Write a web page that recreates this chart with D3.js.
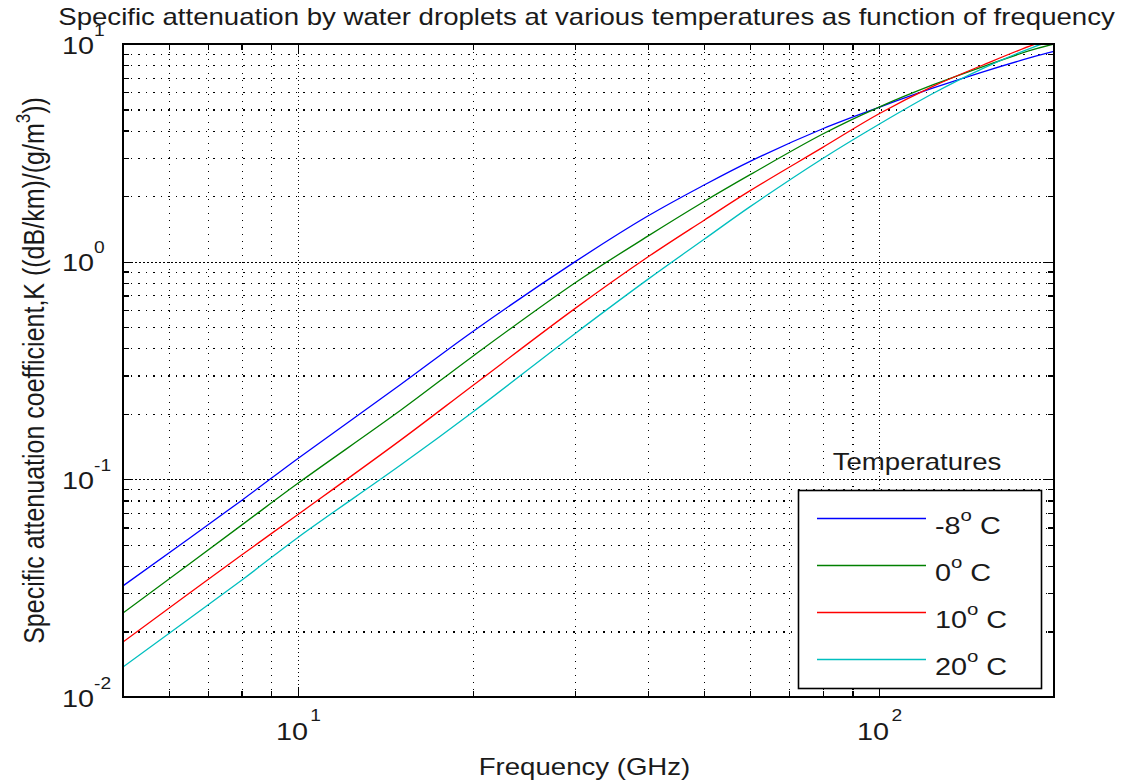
<!DOCTYPE html>
<html><head><meta charset="utf-8">
<script src="https://cdn.jsdelivr.net/npm/d3@7"></script>
<style>
html,body{margin:0;padding:0;background:#fff;}
svg{display:block;font-family:"Liberation Sans", Arial, sans-serif;}
</style></head><body>
<svg id="chart" width="1125" height="782"></svg>
<script>
// ---- data ----
const freqGHz = [5, 8, 10, 15, 20, 30, 40, 50, 60, 80, 100, 124, 151, 184, 200];
const kMinus8 = [0.0324, 0.0800, 0.1247, 0.272, 0.478, 1.00, 1.62, 2.25, 2.89, 4.08, 5.12, 6.28, 7.45, 8.72, 9.25];
const kZero   = [0.0243, 0.0616, 0.0959, 0.207, 0.368, 0.800, 1.31, 1.89, 2.51, 3.86, 5.13, 6.50, 7.88, 9.42, 10.0];
const kTen    = [0.0179, 0.0449, 0.0689, 0.151, 0.270, 0.610, 1.05, 1.55, 2.12, 3.35, 4.78, 6.40, 8.01, 9.90, 10.6];
const kTwenty = [0.01374, 0.0344, 0.0541, 0.116, 0.204, 0.468, 0.829, 1.267, 1.79, 2.98, 4.28, 5.94, 7.73, 9.66, 10.4];
const seriesTemps = ["-8", "0", "10", "20"];
const seriesColors = ["#0000ff", "#008000", "#ff0000", "#00bfbf"];
const xMajorTicks = [10, 100];
const xMinorTicks = [6, 7, 8, 9, 20, 30, 40, 50, 60, 70, 80, 90];
const yMajorTicks = [0.01, 0.1, 1, 10];
const yMinorTicks = [0.02,0.03,0.04,0.05,0.06,0.07,0.08,0.09,0.2,0.3,0.4,0.5,0.6,0.7,0.8,0.9,2,3,4,5,6,7,8,9];
const titleText = "Specific attenuation by water droplets at various temperatures as function of frequency";
const xLabelText = "Frequency (GHz)";
const yLabelMain = "Specific attenuation coefficient,K ((dB/km)/(g/m";
const yLabelSup = "3";
const yLabelEnd = "))";
const legendTitle = "Temperatures";

// ---- layout ----
const W = 1125, H = 782;
const margin = {left: 123, top: 44, right: 71, bottom: 85};
const iw = W - margin.left - margin.right;
const ih = H - margin.top - margin.bottom;
const SX = 1.2;           // horizontal glyph stretch of the reference
const TXT = "#1a1a1a";

const svg = d3.select("#chart");
svg.append("rect").attr("width", W).attr("height", H).attr("fill", "#fff");
const g = svg.append("g").attr("transform", `translate(${margin.left},${margin.top})`);

const x = d3.scaleLog().domain([5, 200]).range([0, iw]);
const y = d3.scaleLog().domain([0.01, 10]).range([ih, 0]);

// ---- grid ----
function styleGrid(sel, dash) {
  sel.select(".domain").remove();
  sel.selectAll(".tick text").remove();
  sel.selectAll(".tick line").attr("stroke", "#000").attr("stroke-width", 1.2)
     .attr("stroke-dasharray", dash).attr("shape-rendering", "crispEdges");
}
g.append("g").attr("transform", `translate(0,${ih})`)
  .call(d3.axisBottom(x).tickValues(xMinorTicks).tickSize(-ih).tickSizeOuter(0).tickFormat(""))
  .call(s => styleGrid(s, "1.5,5.5"));
g.append("g").attr("transform", `translate(0,${ih})`)
  .call(d3.axisBottom(x).tickValues(xMajorTicks).tickSize(-ih).tickSizeOuter(0).tickFormat(""))
  .call(s => styleGrid(s, "1.5,2.5"));
g.append("g")
  .call(d3.axisLeft(y).tickValues(yMinorTicks).tickSize(-iw).tickSizeOuter(0).tickFormat(""))
  .call(s => styleGrid(s, "1.5,6"));
g.append("g")
  .call(d3.axisLeft(y).tickValues(yMajorTicks).tickSize(-iw).tickSizeOuter(0).tickFormat(""))
  .call(s => styleGrid(s, "1.5,2.5"));

// ---- curves ----
svg.append("defs").append("clipPath").attr("id", "plotclip")
  .append("rect").attr("width", iw).attr("height", ih);
const seriesValues = [kMinus8, kZero, kTen, kTwenty];
const line = d3.line().x(d => x(d[0])).y(d => y(d[1])).curve(d3.curveCatmullRom.alpha(0.5));
const curves = g.append("g").attr("clip-path", "url(#plotclip)");
seriesValues.forEach((vals, i) => {
  curves.append("path")
    .datum(freqGHz.map((f, j) => [f, vals[j]]))
    .attr("d", line)
    .attr("fill", "none")
    .attr("stroke", seriesColors[i])
    .attr("stroke-width", 1.3);
});

// ---- tick marks on all four sides ----
function styleTicks(sel) {
  sel.attr("font-size", null).attr("font-family", null);
  sel.select(".domain").remove();
  sel.selectAll(".tick line").attr("stroke", "#000").attr("stroke-width", 1.3).attr("shape-rendering", "crispEdges");
}
// bottom
const gxB = g.append("g").attr("transform", `translate(0,${ih})`)
  .call(d3.axisBottom(x).tickValues(xMajorTicks).tickSize(-10).tickSizeOuter(0).tickFormat(() => "10"))
  .call(styleTicks);
gxB.selectAll(".tick text").each(function(d) {
  const t = d3.select(this);
  t.attr("y", null).attr("dy", null).attr("fill", TXT).attr("font-size", 24)
   .attr("text-anchor", "middle").attr("transform", `translate(0,43) scale(${SX},1)`);
  t.append("tspan").attr("dy", -19).attr("dx", 2).attr("font-size", 16).text(Math.round(Math.log10(d)));
});
g.append("g").attr("transform", `translate(0,${ih})`)
  .call(d3.axisBottom(x).tickValues(xMinorTicks).tickSize(-6).tickSizeOuter(0).tickFormat(""))
  .call(styleTicks);
// top
g.append("g").call(d3.axisTop(x).tickValues(xMajorTicks).tickSize(-10).tickSizeOuter(0).tickFormat("")).call(styleTicks);
g.append("g").call(d3.axisTop(x).tickValues(xMinorTicks).tickSize(-6).tickSizeOuter(0).tickFormat("")).call(styleTicks);
// left
const gyL = g.append("g")
  .call(d3.axisLeft(y).tickValues(yMajorTicks).tickSize(-9).tickSizeOuter(0).tickFormat(() => "10"))
  .call(styleTicks);
gyL.selectAll(".tick text").each(function(d) {
  const t = d3.select(this);
  t.attr("x", null).attr("dy", null).attr("fill", TXT).attr("font-size", 24)
   .attr("text-anchor", "start").attr("transform", `translate(-61,9) scale(${SX},1)`);
  t.append("tspan").attr("dy", -18).attr("font-size", 16).text(Math.round(Math.log10(d)));
});
g.append("g").call(d3.axisLeft(y).tickValues(yMinorTicks).tickSize(-6).tickSizeOuter(0).tickFormat("")).call(styleTicks);
// right
g.append("g").attr("transform", `translate(${iw},0)`)
  .call(d3.axisRight(y).tickValues(yMajorTicks).tickSize(-9).tickSizeOuter(0).tickFormat("")).call(styleTicks);
g.append("g").attr("transform", `translate(${iw},0)`)
  .call(d3.axisRight(y).tickValues(yMinorTicks).tickSize(-6).tickSizeOuter(0).tickFormat("")).call(styleTicks);

// box
g.append("rect").attr("width", iw).attr("height", ih).attr("fill", "none")
  .attr("stroke", "#000").attr("stroke-width", 2).attr("shape-rendering", "crispEdges");

// ---- titles ----
svg.append("text").attr("transform", `translate(${margin.left + iw/2 - 2},25) scale(${SX},1)`)
  .attr("text-anchor", "middle").attr("font-size", 23).attr("fill", TXT).text(titleText);
svg.append("text").attr("transform", `translate(${margin.left + iw/2 - 4},775) scale(${SX},1)`)
  .attr("text-anchor", "middle").attr("font-size", 23).attr("fill", TXT).text(xLabelText);
const yl = svg.append("text")
  .attr("transform", `translate(43.5,${margin.top + ih/2}) scale(${SX},1) rotate(-90)`)
  .attr("text-anchor", "middle").attr("font-size", 25).attr("fill", TXT);
yl.append("tspan").text(yLabelMain);
yl.append("tspan").attr("dy", -11).attr("font-size", 17).text(yLabelSup);
yl.append("tspan").attr("dy", 11).text(yLabelEnd);

// ---- legend ----
const lg = svg.append("g");
lg.append("text").attr("transform", `translate(917,470) scale(${SX},1)`)
  .attr("text-anchor", "middle").attr("font-size", 23).attr("fill", TXT).text(legendTitle);
lg.append("rect").attr("x", 798.5).attr("y", 490.5).attr("width", 243).attr("height", 198)
  .attr("fill", "#fff").attr("stroke", "#000").attr("stroke-width", 1.6);
seriesTemps.forEach((tLabel, i) => {
  const ly = 518.5 + i * 47;
  lg.append("line").attr("x1", 817).attr("x2", 926).attr("y1", ly).attr("y2", ly)
    .attr("stroke", seriesColors[i]).attr("stroke-width", 1.6);
  const tx = lg.append("text").attr("transform", `translate(935,${ly + 15}) scale(${SX},1)`)
    .attr("font-size", 24).attr("fill", TXT);
  tx.append("tspan").text(tLabel);
  tx.append("tspan").attr("dy", -13).attr("font-size", 17).text("o");
  tx.append("tspan").attr("dy", 13).text(" C");
});
</script>
</body></html>
